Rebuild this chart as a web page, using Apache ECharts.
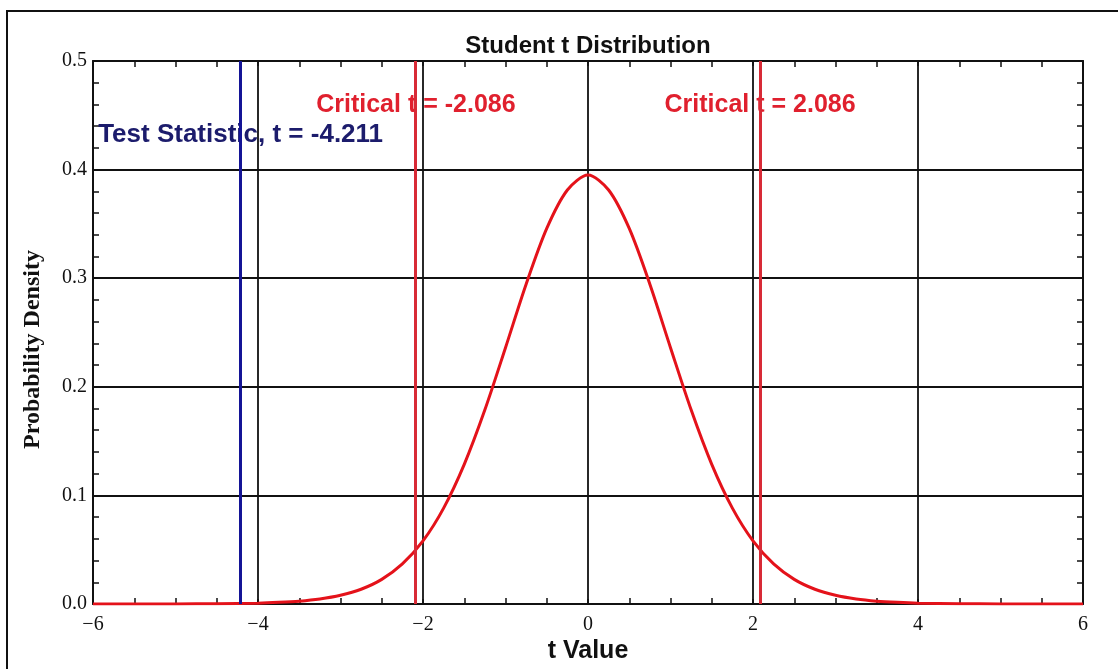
<!DOCTYPE html>
<html>
<head>
<meta charset="utf-8">
<script src="https://cdn.jsdelivr.net/npm/echarts@6/dist/echarts.min.js"></script>
<style>
  html, body { margin: 0; padding: 0; background: #ffffff; }
  #chart { width: 1118px; height: 669px; }
</style>
</head>
<body>
<div id="chart"></div>
<script>
// Density curve of the t distribution (20 degrees of freedom), sampled every 0.25
const tValues = [
  -6, -5.5, -5, -4.5, -4, -3.75, -3.5, -3.25, -3, -2.75, -2.5, -2.25, -2, -1.75, -1.5, -1.25, -1, -0.75, -0.5, -0.25,
  0, 0.25, 0.5, 0.75, 1, 1.25, 1.5, 1.75, 2, 2.25, 2.5, 2.75, 3, 3.25, 3.5, 3.75, 4, 4.5, 5, 5.5, 6
];
const densities = [
  0.0000, 0.0000, 0.0001, 0.0003, 0.0008, 0.0015, 0.0026, 0.0046, 0.0080, 0.0136, 0.0227, 0.0369, 0.0581, 0.0883, 0.1286, 0.1788, 0.2360, 0.2944, 0.3458, 0.3812,
  0.3950, 0.3812, 0.3458, 0.2944, 0.2360, 0.1788, 0.1286, 0.0883, 0.0581, 0.0369, 0.0227, 0.0136, 0.0080, 0.0046, 0.0026, 0.0015, 0.0008, 0.0003, 0.0001, 0.0000, 0.0000
];

// Reference lines
const testStatistic = -4.211;
const criticalValues = [-2.086, 2.086];

// Annotation texts with their anchor points (t, density)
const annotations = [
  { t: -2.086, y: 0.459, text: 'Critical t = -2.086', color: '#e0202e', size: 25 },
  { t: 2.086, y: 0.459, text: 'Critical t = 2.086', color: '#e0202e', size: 25 },
  { t: -4.211, y: 0.432, text: 'Test Statistic, t = -4.211', color: '#1c1c6c', size: 26 }
];

// Tick labels
const xTickLabels = { '-6': '\u22126', '-4': '\u22124', '-2': '\u22122', '0': '0', '2': '2', '4': '4', '6': '6' };
const yTickLabels = { '0': '0.0', '0.1': '0.1', '0.2': '0.2', '0.3': '0.3', '0.4': '0.4', '0.5': '0.5' };

const curve = tValues.map((t, i) => [t, densities[i]]);

const tickFont = { fontFamily: 'Liberation Serif, Times New Roman, serif', fontSize: 20, color: '#111' };
const boldSans = 'Liberation Sans, Arial, sans-serif';

const chart = echarts.init(document.getElementById('chart'), null, { renderer: 'canvas' });

const xBase = {
  type: 'value', min: -6, max: 6, interval: 2,
  axisLine: { show: true, onZero: false, lineStyle: { color: '#111', width: 2 } },
  axisTick: { show: true, inside: true, length: 5, lineStyle: { color: '#111', width: 1.5 } },
  minorTick: { show: true, splitNumber: 4, length: 6, lineStyle: { color: '#111', width: 1.5 } },
  splitLine: { show: false }
};
const yBase = {
  type: 'value', min: 0, max: 0.5, interval: 0.1,
  axisLine: { show: true, onZero: false, lineStyle: { color: '#111', width: 2 } },
  axisTick: { show: true, inside: true, length: 5, lineStyle: { color: '#111', width: 1.5 } },
  minorTick: { show: true, splitNumber: 5, length: 6, lineStyle: { color: '#111', width: 1.5 } },
  splitLine: { show: false }
};

chart.setOption({
  animation: false,
  backgroundColor: '#ffffff',
  grid: { left: 93, right: 35, top: 61, bottom: 61, containLabel: false },
  xAxis: [
    Object.assign({}, xBase, {
      position: 'bottom',
      name: 't Value', nameLocation: 'middle', nameGap: 35, nameMoveOverlap: false,
      nameTextStyle: { fontFamily: boldSans, fontWeight: 'bold', fontSize: 25, color: '#111' },
      axisLabel: Object.assign({ margin: 11, formatter: v => xTickLabels[String(v)] }, tickFont),
      splitLine: { show: true, lineStyle: { color: '#111', width: 1.8 } }
    }),
    Object.assign({}, xBase, {
      position: 'top',
      name: 'Student t Distribution', nameLocation: 'middle', nameGap: 3,
      nameTextStyle: { fontFamily: boldSans, fontWeight: 'bold', fontSize: 24, color: '#111' },
      axisLabel: { show: false }
    })
  ],
  yAxis: [
    Object.assign({}, yBase, {
      position: 'left',
      name: 'Probability Density', nameLocation: 'middle', nameGap: 48, nameRotate: 90,
      nameTextStyle: { fontFamily: 'Liberation Serif, Times New Roman, serif', fontWeight: 'bold', fontSize: 24, color: '#111', padding: [0, 34, 0, 0] },
      axisLabel: Object.assign({ margin: 6, formatter: v => yTickLabels[String(+v.toFixed(1))] }, tickFont),
      splitLine: { show: true, lineStyle: { color: '#111', width: 1.8 } }
    }),
    Object.assign({}, yBase, {
      position: 'right',
      axisLabel: { show: false }
    })
  ],
  graphic: [
    {
      type: 'rect', silent: true, z: -10,
      shape: { x: 7, y: 11, width: 1300, height: 800 },
      style: { fill: null, stroke: '#111', lineWidth: 2 }
    }
  ],
  series: [
    {
      name: 'annotations', type: 'scatter', z: 1,
      symbolSize: 1, itemStyle: { color: 'rgba(0,0,0,0)', opacity: 1 },
      data: annotations.map(a => ({ value: [a.t, a.y], name: a.text,
        label: { color: a.color, fontSize: a.size } })),
      label: {
        show: true, position: 'inside', formatter: p => p.name, textBorderWidth: 0,
        fontFamily: boldSans, fontWeight: 'bold', fontSize: 25
      },
      emphasis: { disabled: true },
      silent: true
    },
    {
      name: 'density', type: 'line', z: 3,
      data: curve, smooth: 0.3, showSymbol: false,
      lineStyle: { color: '#e4121a', width: 3 },
      emphasis: { disabled: true },
      markLine: {
        silent: true, symbol: 'none', z: 5,
        label: { show: false },
        data: [
          { xAxis: testStatistic, lineStyle: { color: '#141496', width: 3, type: 'solid' } },
          ...criticalValues.map(c => ({ xAxis: c, lineStyle: { color: '#d82a36', width: 3, type: 'solid' } }))
        ]
      }
    }
  ]
});
</script>
</body>
</html>
